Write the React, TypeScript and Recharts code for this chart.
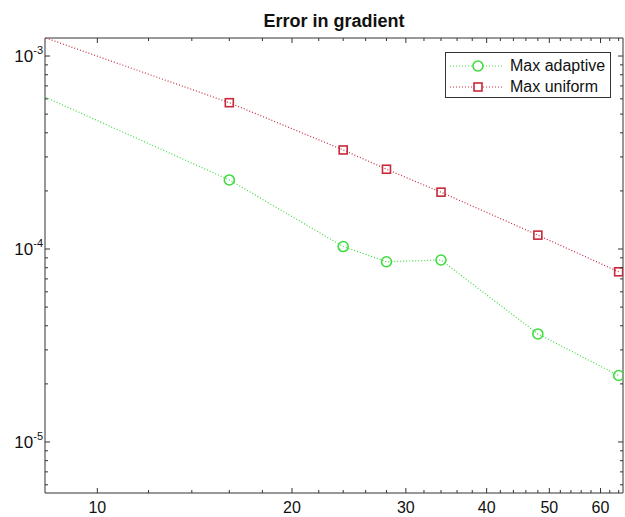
import React from 'react';
import { LineChart, Line, XAxis, YAxis, Legend, ReferenceArea } from 'recharts';

// ---- data ----
const xValues = [8, 16, 24, 28, 34, 48, 64];
const adaptiveValues = [6.48e-4, 2.28e-4, 1.03e-4, 8.59e-5, 8.77e-5, 3.63e-5, 2.21e-5];
const uniformValues = [1.3e-3, 5.73e-4, 3.26e-4, 2.59e-4, 1.97e-4, 1.18e-4, 7.62e-5];

const xMajorTicks = [10, 20, 30, 40, 50, 60];
const xMinorTicks = [12, 14, 16, 18, 22, 24, 26, 28, 32, 34, 36, 38, 42, 44, 46, 48, 52, 54, 56, 58, 62, 64];
const yMajorTicks = [1e-5, 1e-4, 1e-3];
const yMinorTicks = [
  6e-6, 7e-6, 8e-6, 9e-6,
  2e-5, 3e-5, 4e-5, 5e-5, 6e-5, 7e-5, 8e-5, 9e-5,
  2e-4, 3e-4, 4e-4, 5e-4, 6e-4, 7e-4, 8e-4, 9e-4,
];
const xDomain: [number, number] = [8.3, 65];
const yDomain: [number, number] = [5.44e-6, 1.24e-3];

const seriesNames = { adaptive: 'Max adaptive', uniform: 'Max uniform' };
const chartTitle = 'Error in gradient';

const data = xValues.map((x, i) => ({ x, adaptive: adaptiveValues[i], uniform: uniformValues[i] }));

// ---- style ----
const FONT = '"Liberation Sans", Arial, Helvetica, sans-serif';
const GREEN = '#3ddc3d';
const RED = '#c8283a';
const AXIS = '#333';
const W = 625;
const H = 517;
const PW = 578;
const PH = 455;

const isMajorY = (v: number) => yMajorTicks.some((t) => Math.abs(t - v) / t < 1e-9);

const YTick = (props: any) => {
  const { x, y, payload } = props;
  const v = payload.value;
  const major = isMajorY(v);
  const len = major ? 5 : 3;
  const exp = Math.round(Math.log10(v));
  return (
    <g>
      <line x1={x} y1={y} x2={x + len} y2={y} stroke={AXIS} strokeWidth={1} />
      <line x1={x + PW} y1={y} x2={x + PW - len} y2={y} stroke={AXIS} strokeWidth={1} />
      {major && (
        <text x={x - 2} y={y + 6} textAnchor="end" fontSize={17} fill="#111" fontFamily={FONT}>
          <tspan>10</tspan>
          <tspan fontSize={11} dy={-8}>{String(exp)}</tspan>
        </text>
      )}
    </g>
  );
};

const XTick = (props: any) => {
  const { x, y, payload } = props;
  const v = payload.value;
  const major = xMajorTicks.includes(v);
  const len = major ? 5 : 3;
  return (
    <g>
      <line x1={x} y1={y} x2={x} y2={y - len} stroke={AXIS} strokeWidth={1} />
      <line x1={x} y1={y - PH} x2={x} y2={y - PH + len} stroke={AXIS} strokeWidth={1} />
      {major && (
        <text x={x} y={y + 20} textAnchor="middle" fontSize={16} fill="#111" fontFamily={FONT}>
          {String(v)}
        </text>
      )}
    </g>
  );
};

const CircleDot = (props: any) => {
  const { cx, cy, index } = props;
  if (cx == null || cy == null) return <g key={`c${index}`} />;
  return <circle key={`c${index}`} cx={cx} cy={cy} r={5} fill="none" stroke={GREEN} strokeWidth={1.6} />;
};

const SquareDot = (props: any) => {
  const { cx, cy, index } = props;
  if (cx == null || cy == null) return <g key={`s${index}`} />;
  return <rect key={`s${index}`} x={cx - 4} y={cy - 4} width={8} height={8} fill="none" stroke={RED} strokeWidth={1.6} />;
};

const LegendBox = () => {
  const rows = [
    { name: seriesNames.adaptive, color: GREEN, kind: 'circle' },
    { name: seriesNames.uniform, color: RED, kind: 'square' },
  ];
  return (
    <div
      style={{
        border: `1px solid ${AXIS}`,
        background: '#fff',
        width: 164,
        padding: '2px 0 0 0',
        fontFamily: FONT,
        fontSize: 16,
        color: '#111',
      }}
    >
      {rows.map((r) => (
        <div key={r.name} style={{ display: 'flex', alignItems: 'center', height: 21 }}>
          <svg width={56} height={14} style={{ marginLeft: 4, display: 'block' }}>
            <line x1={0} y1={7} x2={54} y2={7} stroke={r.color} strokeWidth={1.2} strokeDasharray="1 2" />
            {r.kind === 'circle' ? (
              <circle cx={28} cy={7} r={5} fill="#fff" stroke={r.color} strokeWidth={1.6} />
            ) : (
              <rect x={24} y={3} width={8} height={8} fill="#fff" stroke={r.color} strokeWidth={1.6} />
            )}
          </svg>
          <span style={{ marginLeft: 4, lineHeight: '21px' }}>{r.name}</span>
        </div>
      ))}
    </div>
  );
};

export default function App() {
  return (
    <div style={{ position: 'absolute', left: 0, top: 0, width: W, height: H, background: '#fff', fontFamily: FONT }}>
      <div
        style={{
          position: 'absolute',
          left: 45,
          width: PW,
          top: 10,
          textAlign: 'center',
          fontWeight: 'bold',
          fontSize: 18,
          lineHeight: '22px',
          color: '#111',
        }}
      >
        {chartTitle}
      </div>
      <LineChart width={W} height={H} data={data} margin={{ top: 38, right: 2, bottom: 0, left: 0 }}>
        <XAxis
          dataKey="x"
          type="number"
          scale="log"
          domain={xDomain}
          allowDataOverflow
          ticks={[...xMajorTicks, ...xMinorTicks].sort((a, b) => a - b)}
          interval={0}
          tickSize={0}
          tickMargin={0}
          tickLine={false}
          axisLine={false}
          height={24}
          tick={(p: any) => <XTick {...p} />}
        />
        <YAxis
          type="number"
          scale="log"
          domain={yDomain}
          allowDataOverflow
          ticks={[...yMinorTicks, ...yMajorTicks].sort((a, b) => a - b)}
          interval={0}
          tickSize={0}
          tickMargin={0}
          tickLine={false}
          axisLine={false}
          width={45}
          tick={(p: any) => <YTick {...p} />}
        />
        <ReferenceArea
          x1={xDomain[0]}
          x2={xDomain[1]}
          y1={yDomain[0]}
          y2={yDomain[1]}
          fill="none"
          stroke={AXIS}
          strokeWidth={1}
          ifOverflow="visible"
        />
        <Line
          type="linear"
          dataKey="adaptive"
          name={seriesNames.adaptive}
          stroke={GREEN}
          strokeWidth={1.2}
          strokeDasharray="1 2"
          dot={(p: any) => <CircleDot {...p} />}
          activeDot={false}
          isAnimationActive={false}
        />
        <Line
          type="linear"
          dataKey="uniform"
          name={seriesNames.uniform}
          stroke={RED}
          strokeWidth={1.2}
          strokeDasharray="1 2"
          dot={(p: any) => <SquareDot {...p} />}
          activeDot={false}
          isAnimationActive={false}
        />
        <Legend
          layout="vertical"
          verticalAlign="middle"
          align="center"
          wrapperStyle={{ left: 445, top: 52, width: 166 }}
          content={() => <LegendBox />}
        />
      </LineChart>
    </div>
  );
}
